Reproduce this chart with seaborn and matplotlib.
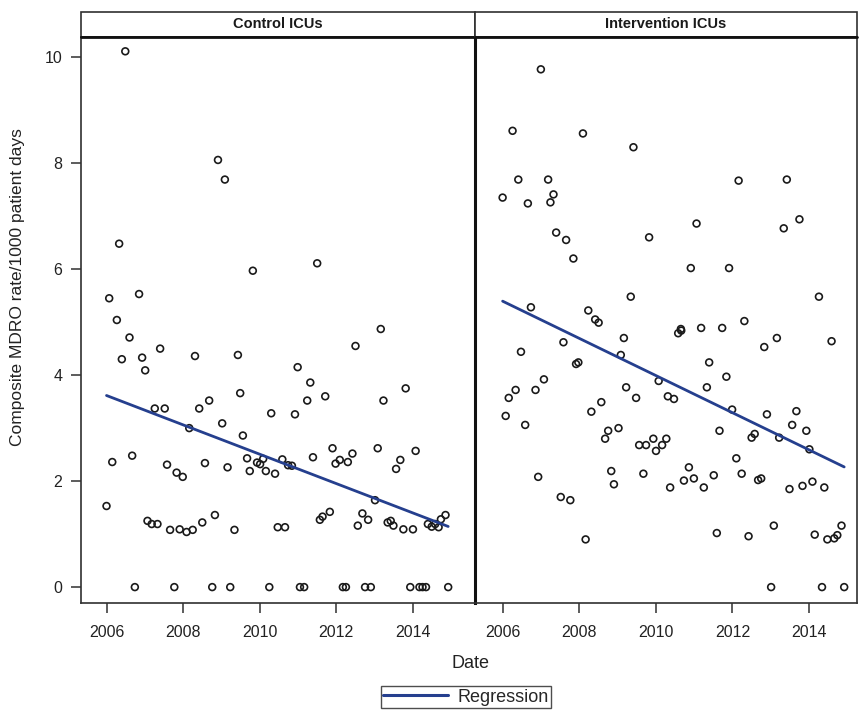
"""
Composite MDRO rate over time, control vs intervention ICUs.
Scatter of monthly rates with a linear regression line per panel.
"""

import matplotlib
matplotlib.use("Agg")
import matplotlib.pyplot as plt
from matplotlib.lines import Line2D
from matplotlib.patches import Rectangle
import pandas as pd
import seaborn as sns

# ---------------------------------------------------------------------------
# Data (decimal year, rate per 1000 patient days)
# ---------------------------------------------------------------------------

control_date = [
    2006.49, 2008.91, 2009.09, 2006.33, 2009.82, 2006.07, 2006.85, 2006.27,
    2011.50, 2013.16,
    2006.60, 2006.40, 2006.93, 2007.01, 2007.40, 2008.31, 2009.43, 2009.49,
    2008.68, 2008.42, 2007.26, 2007.52, 2008.16, 2009.02, 2009.56, 2010.30,
    2006.15, 2006.67, 2007.58, 2007.83, 2007.99, 2008.57, 2009.16, 2009.67,
    2009.74, 2009.93, 2010.01, 2010.09, 2010.16, 2006.00, 2007.07, 2007.18,
    2007.33, 2007.66, 2007.91, 2008.09, 2008.25, 2008.50, 2008.83, 2009.34,
    2006.74, 2007.77, 2008.76, 2009.23, 2010.25,
    2012.50, 2010.99, 2011.32, 2011.24, 2011.71, 2010.92, 2013.23, 2013.81,
    2010.59, 2010.40, 2010.74, 2010.84, 2011.39, 2011.90, 2011.98, 2012.09,
    2012.30, 2012.42, 2013.08, 2013.56, 2013.67, 2014.07, 2013.01, 2010.47,
    2010.66, 2011.57, 2011.64, 2011.83, 2012.56, 2012.68, 2012.83, 2013.34,
    2013.42, 2013.49, 2013.75, 2014.00, 2014.39, 2014.49, 2014.58, 2014.67,
    2014.73, 2014.85,
    2011.05, 2011.16, 2012.17, 2012.25, 2012.75, 2012.90, 2013.93, 2014.17,
    2014.25, 2014.34, 2014.92,
]
control_rate = [
    10.11, 8.06, 7.69, 6.48, 5.97, 5.45, 5.53, 5.04,
    6.11, 4.87,
    4.71, 4.30, 4.33, 4.09, 4.50, 4.36, 4.38, 3.66,
    3.52, 3.37, 3.37, 3.37, 3.00, 3.09, 2.86, 3.28,
    2.36, 2.48, 2.31, 2.16, 2.08, 2.34, 2.26, 2.43,
    2.19, 2.35, 2.32, 2.42, 2.19, 1.53, 1.25, 1.19,
    1.19, 1.08, 1.09, 1.04, 1.08, 1.22, 1.36, 1.08,
    0.0, 0.0, 0.0, 0.0, 0.0,
    4.55, 4.15, 3.86, 3.52, 3.60, 3.26, 3.52, 3.75,
    2.41, 2.14, 2.30, 2.29, 2.45, 2.62, 2.33, 2.40,
    2.36, 2.52, 2.62, 2.23, 2.40, 2.57, 1.64, 1.13,
    1.13, 1.27, 1.33, 1.42, 1.16, 1.39, 1.27, 1.22,
    1.25, 1.16, 1.09, 1.09, 1.19, 1.14, 1.19, 1.13,
    1.28, 1.36,
    0.0, 0.0, 0.0, 0.0, 0.0, 0.0, 0.0, 0.0,
    0.0, 0.0, 0.0,
]

intervention_date = [
    2006.99, 2006.25, 2008.09, 2009.41, 2006.40, 2007.18, 2005.99, 2006.65,
    2007.32, 2007.24, 2007.39, 2007.65, 2009.82, 2007.84, 2009.34, 2006.73,
    2008.23, 2008.41, 2008.50,
    2012.16, 2013.42, 2011.06, 2013.34, 2013.75, 2010.91, 2011.91, 2014.26,
    2010.65, 2011.18, 2011.73, 2012.31,
    2009.16, 2007.58, 2006.47, 2009.08, 2007.91, 2007.97, 2007.07, 2010.07,
    2006.33, 2006.15, 2006.85, 2009.22, 2009.48, 2010.31, 2008.57, 2008.31,
    2006.07, 2006.58, 2009.02, 2008.75, 2008.67, 2009.56, 2009.74, 2009.93,
    2010.00, 2010.16, 2010.27, 2008.83, 2008.90, 2009.67, 2010.37, 2006.92,
    2007.51, 2007.76, 2008.16,
    2010.58, 2010.66, 2012.83, 2013.16, 2014.59, 2011.39, 2011.84, 2011.33,
    2010.47, 2011.99, 2012.90, 2013.67, 2013.56, 2013.93, 2011.66, 2012.50,
    2012.58, 2013.22, 2014.01, 2010.86, 2010.73, 2010.99, 2011.25, 2011.51,
    2012.10, 2012.24, 2012.67, 2012.75, 2013.49, 2013.83, 2014.09, 2014.40,
    2011.59, 2012.42, 2013.08, 2014.15, 2014.48, 2014.66, 2014.74, 2014.85,
    2013.01, 2014.34, 2014.92,
]
intervention_rate = [
    9.77, 8.61, 8.56, 8.30, 7.69, 7.69, 7.35, 7.24,
    7.41, 7.26, 6.69, 6.55, 6.60, 6.20, 5.48, 5.28,
    5.22, 5.05, 4.99,
    7.67, 7.69, 6.86, 6.77, 6.94, 6.02, 6.02, 5.48,
    4.87, 4.89, 4.89, 5.02,
    4.70, 4.62, 4.44, 4.38, 4.21, 4.24, 3.92, 3.89,
    3.72, 3.57, 3.72, 3.77, 3.57, 3.60, 3.49, 3.31,
    3.23, 3.06, 3.00, 2.95, 2.80, 2.68, 2.68, 2.80,
    2.57, 2.68, 2.80, 2.19, 1.94, 2.14, 1.88, 2.08,
    1.70, 1.64, 0.90,
    4.79, 4.84, 4.53, 4.70, 4.64, 4.24, 3.97, 3.77,
    3.55, 3.35, 3.26, 3.32, 3.06, 2.95, 2.95, 2.82,
    2.89, 2.82, 2.60, 2.26, 2.01, 2.05, 1.88, 2.11,
    2.43, 2.14, 2.02, 2.05, 1.85, 1.91, 1.99, 1.88,
    1.02, 0.96, 1.16, 0.99, 0.90, 0.92, 0.98, 1.16,
    0.0, 0.0, 0.0,
]

panel_titles = ["Control ICUs", "Intervention ICUs"]
year_ticks = [2006, 2008, 2010, 2012, 2014]
rate_ticks = [0, 2, 4, 6, 8, 10]

# ---------------------------------------------------------------------------
# Style
# ---------------------------------------------------------------------------

sns.set_theme(style="white")
plt.rcParams["font.family"] = ["Liberation Sans Narrow", "Liberation Sans", "DejaVu Sans"]
plt.rcParams.update({
    "axes.edgecolor": "#303030",
    "axes.linewidth": 1.2,
    "xtick.color": "#303030",
    "ytick.color": "#303030",
    "xtick.labelcolor": "#222222",
    "ytick.labelcolor": "#222222",
})

LINE_COLOR = "#253f8e"

frames = [
    pd.DataFrame({"date": control_date, "rate": control_rate}),
    pd.DataFrame({"date": intervention_date, "rate": intervention_rate}),
]

W, H = 861, 710
fig = plt.figure(figsize=(W / 100, H / 100), dpi=100)

# panel boxes in pixels: (left, right), plot area y 37..603
panel_px = [(81, 475), (475, 857)]
xlims = [(2005.334, 2015.62), (2005.268, 2015.255)]
top_px, bottom_px = 37, 603
header_px = 25

for i, (df, title) in enumerate(zip(frames, panel_titles)):
    l, r = panel_px[i]
    ax = fig.add_axes([l / W, (H - bottom_px) / H, (r - l) / W, (bottom_px - top_px) / H])
    sns.regplot(
        data=df, x="date", y="rate", ax=ax, ci=None,
        scatter_kws={"s": 24, "facecolors": "none", "edgecolors": "#1a1a1a",
                     "linewidths": 1.2, "alpha": 1},
        line_kws={"color": LINE_COLOR, "lw": 2.0},
    )
    ax.set_xlim(*xlims[i])
    ax.set_ylim(-0.30, 10.38)
    ax.set_xticks(year_ticks)
    ax.set_xticklabels([str(y) for y in year_ticks])
    ax.tick_params(axis="x", direction="out", length=7.5, width=1.1,
                   labelsize=11.5, pad=8, bottom=True)
    ax.set_xlabel("")
    ax.set_ylabel("")
    ax.set_yticks(rate_ticks)
    if i == 0:
        ax.tick_params(axis="y", direction="out", length=7.5, width=1.1,
                       labelsize=11.5, pad=6, left=True)
    else:
        ax.tick_params(axis="y", left=False, labelleft=False)
        ax.spines["left"].set_linewidth(2.2)
        ax.spines["left"].set_color("#111111")
    for s in ax.spines.values():
        s.set_zorder(5)

    # header strip
    hfrac = header_px / (bottom_px - top_px)
    ax.add_patch(Rectangle((0, 1), 1, hfrac, transform=ax.transAxes,
                           facecolor="white", edgecolor="#303030",
                           lw=1.2, clip_on=False, zorder=4))
    ax.plot([0, 1], [1, 1], transform=ax.transAxes, color="#111111",
            lw=2.0, clip_on=False, zorder=6)
    ax.text(0.5, 1 + hfrac / 2, title, transform=ax.transAxes,
            ha="center", va="center", fontsize=10.5, fontweight="bold",
            color="#1a1a1a", zorder=8)

fig.text(18 / W, 1 - 287 / H, "Composite MDRO rate/1000 patient days",
         rotation=90, ha="center", va="center", fontsize=12.5, color="#222222")
fig.text(471 / W, 1 - 664 / H, "Date", ha="center", va="center",
         fontsize=13, color="#222222")

handle = Line2D([], [], color=LINE_COLOR, lw=2.2)
fig.legend([handle], ["Regression"], loc="center", bbox_to_anchor=(466 / W, 1 - 697 / H),
           frameon=True, fancybox=False, edgecolor="#222222", fontsize=13,
           handlelength=3.6, borderpad=0.12, handletextpad=0.5, borderaxespad=0)

fig.savefig("out.png", dpi=100)
